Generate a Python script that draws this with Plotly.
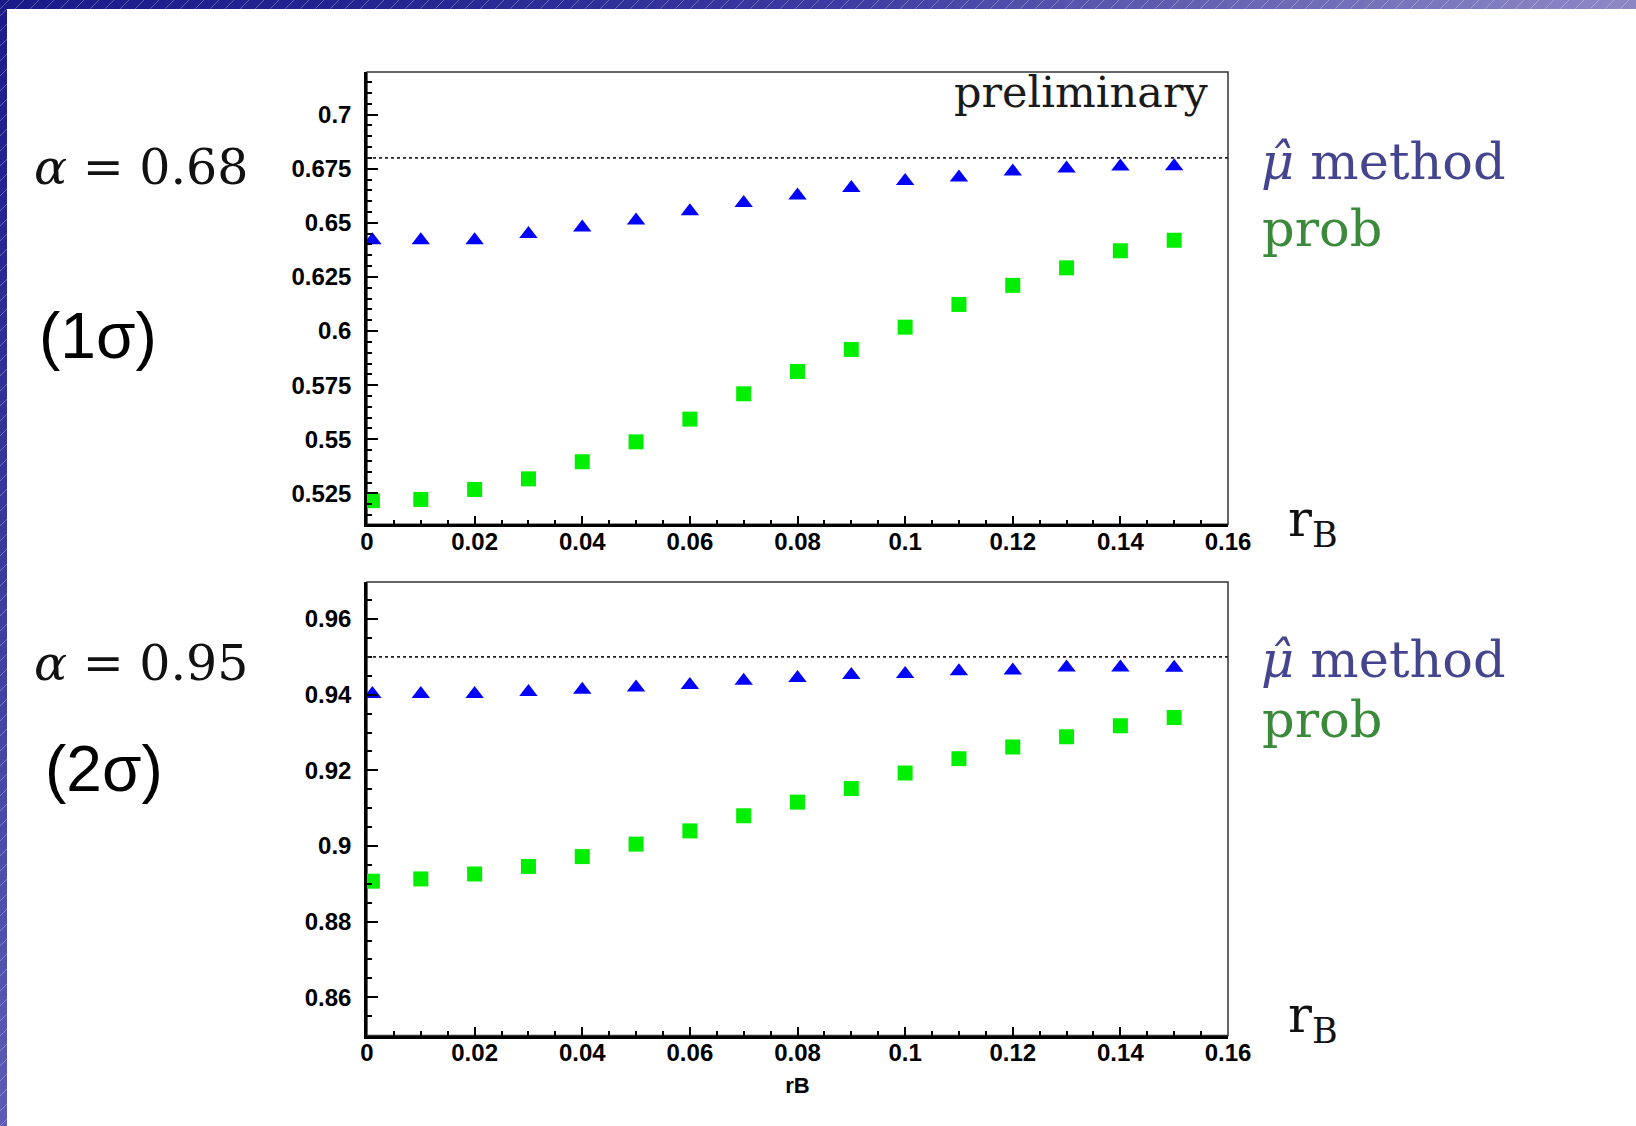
import plotly.graph_objects as go

W, H = 1636, 1126

# ---------------- data ----------------
rB = [0.001, 0.01, 0.02, 0.03, 0.04, 0.05, 0.06, 0.07, 0.08, 0.09,
      0.10, 0.11, 0.12, 0.13, 0.14, 0.15]

alpha_levels = [0.68, 0.95]

mu_hat_68 = [0.6420, 0.6420, 0.6420, 0.6448, 0.6479, 0.6511, 0.6554, 0.6592,
             0.6626, 0.6661, 0.6693, 0.6709, 0.6737, 0.6751, 0.6760, 0.6762]
prob_68 = [0.5216, 0.5222, 0.5268, 0.5317, 0.5396, 0.5488, 0.5593, 0.5710,
           0.5813, 0.5915, 0.6018, 0.6123, 0.6211, 0.6292, 0.6371, 0.6420]

mu_hat_95 = [0.9402, 0.9402, 0.9402, 0.9407, 0.9413, 0.9419, 0.9426, 0.9437,
             0.9444, 0.9452, 0.9455, 0.9462, 0.9464, 0.9472, 0.9472, 0.9471]
prob_95 = [0.8907, 0.8913, 0.8926, 0.8946, 0.8972, 0.9005, 0.9040, 0.9080,
           0.9116, 0.9152, 0.9193, 0.9231, 0.9262, 0.9289, 0.9318, 0.9340]

x_tickvals = [0, 0.02, 0.04, 0.06, 0.08, 0.10, 0.12, 0.14, 0.16]
x_ticktext = ["0", "0.02", "0.04", "0.06", "0.08", "0.1", "0.12", "0.14", "0.16"]

y1_tickvals = [0.525, 0.55, 0.575, 0.6, 0.625, 0.65, 0.675, 0.7]
y1_ticktext = ["0.525", "0.55", "0.575", "0.6", "0.625", "0.65", "0.675", "0.7"]

y2_tickvals = [0.86, 0.88, 0.90, 0.92, 0.94, 0.96]
y2_ticktext = ["0.86", "0.88", "0.9", "0.92", "0.94", "0.96"]

x_range = [0, 0.16]
y1_range = [0.5107, 0.7197]
y2_range = [0.8499, 0.9698]

# ---------------- helpers ----------------
def px(x):
    return x / W


def py(y):
    return 1 - y / H


BLUE = "#0000ff"
GREEN = "#00ee00"
TICKFONT = dict(family="Liberation Sans, Arial, sans-serif", size=24, color="black", weight="bold")
SERIF = "DejaVu Serif, serif"

fig = go.Figure()

fig.add_trace(go.Scatter(x=rB, y=mu_hat_68, mode="markers", xaxis="x", yaxis="y",
                         marker=dict(symbol="triangle-up", size=16, color=BLUE),
                         name="mu hat method", showlegend=False))
fig.add_trace(go.Scatter(x=rB, y=prob_68, mode="markers", xaxis="x", yaxis="y",
                         marker=dict(symbol="square", size=15, color=GREEN),
                         name="prob", showlegend=False))
fig.add_trace(go.Scatter(x=rB, y=mu_hat_95, mode="markers", xaxis="x2", yaxis="y2",
                         marker=dict(symbol="triangle-up", size=16, color=BLUE),
                         name="mu hat method", showlegend=False))
fig.add_trace(go.Scatter(x=rB, y=prob_95, mode="markers", xaxis="x2", yaxis="y2",
                         marker=dict(symbol="square", size=15, color=GREEN),
                         name="prob", showlegend=False))

xdom = [px(367), px(1228)]
y1dom = [py(524.3), py(72)]
y2dom = [py(1035.5), py(582)]


def xaxis_cfg(anchor, title=None):
    d = dict(domain=xdom, anchor=anchor, range=x_range, tickmode="array",
             tickvals=x_tickvals, ticktext=x_ticktext, ticks="inside", ticklen=9,
             tickwidth=2, tickcolor="black", showline=True, linewidth=2.5,
             linecolor="black", showgrid=False, zeroline=False, tickfont=TICKFONT,
             ticklabelstandoff=-6, automargin=False,
             minor=dict(dtick=0.005, tick0=0, ticks="inside", ticklen=5,
                        tickwidth=2, tickcolor="black", showgrid=False))
    if title:
        d["title"] = dict(text=title, standoff=13,
                          font=dict(family="Liberation Sans, Arial, sans-serif",
                                    size=22, color="black", weight="bold"))
    return d


def yaxis_cfg(anchor, dom, rng, tv, tt, minor_dtick):
    return dict(domain=dom, anchor=anchor, range=rng, tickmode="array",
                tickvals=tv, ticktext=tt, ticks="inside", ticklen=11, tickwidth=2,
                tickcolor="black", showline=True, linewidth=2.5, linecolor="black",
                showgrid=False, zeroline=False, tickfont=TICKFONT,
                ticklabelstandoff=8, automargin=False,
                minor=dict(dtick=minor_dtick, tick0=0, ticks="inside", ticklen=5,
                           tickwidth=2, tickcolor="black", showgrid=False))


shapes = []
# frames (top/right thin edges)
for xr, yr in (("x", "y"), ("x2", "y2")):
    shapes.append(dict(type="rect", xref=xr + " domain", yref=yr + " domain",
                       x0=0, x1=1, y0=0, y1=1, layer="below",
                       line=dict(color="#333333", width=1.5)))
# reference dotted lines at alpha
for (xr, yr), a in zip((("x", "y"), ("x2", "y2")), alpha_levels):
    shapes.append(dict(type="line", xref=xr + " domain", yref=yr, x0=0, x1=1,
                       y0=a, y1=a, line=dict(color="#222222", width=1.7, dash="dot")))


# slide border: top band and left band with gradient
def lerp_color(stops, t):
    for (t0, c0), (t1, c1) in zip(stops[:-1], stops[1:]):
        if t0 <= t <= t1:
            f = (t - t0) / (t1 - t0) if t1 > t0 else 0
            c = [round(c0[i] + (c1[i] - c0[i]) * f) for i in range(3)]
            return "rgb(%d,%d,%d)" % tuple(c)
    c = stops[-1][1]
    return "rgb(%d,%d,%d)" % tuple(c)


top_stops = [(0.0, (26, 26, 138)), (0.25, (38, 38, 146)), (0.5, (58, 58, 160)),
             (0.84, (118, 114, 186)), (1.0, (140, 136, 198))]
left_stops = [(0.0, (26, 26, 138)), (0.5, (58, 58, 158)), (1.0, (92, 92, 182))]

TOPH = 9
LEFTW = 7
NSEG = 60
for i in range(NSEG):
    x0 = W * i / NSEG
    x1 = min(W, W * (i + 1) / NSEG + 1)
    shapes.append(dict(type="rect", xref="paper", yref="paper", x0=px(x0), x1=px(x1),
                       y0=py(TOPH), y1=1, line=dict(width=0),
                       fillcolor=lerp_color(top_stops, (i + 0.5) / NSEG), layer="above"))
for i in range(NSEG):
    y0 = TOPH + (H - TOPH) * i / NSEG
    y1 = min(H, TOPH + (H - TOPH) * (i + 1) / NSEG + 1)
    shapes.append(dict(type="rect", xref="paper", yref="paper", x0=0, x1=px(LEFTW),
                       y0=py(y1), y1=py(y0), line=dict(width=0),
                       fillcolor=lerp_color(left_stops, (i + 0.5) / NSEG), layer="above"))

# faint diagonal hatch on the border
hatch = []
step = 15
xs = 0
while xs + TOPH <= W:
    hatch.append("M %.5f,%.5f L %.5f,%.5f" % (px(xs), py(TOPH), px(xs + TOPH), py(0)))
    xs += step
ys = TOPH
while ys + LEFTW <= H:
    hatch.append("M %.5f,%.5f L %.5f,%.5f" % (0, py(ys + LEFTW), px(LEFTW), py(ys)))
    ys += step
shapes.append(dict(type="path", xref="paper", yref="paper", path=" ".join(hatch),
                   line=dict(color="rgba(255,255,255,0.30)", width=1), layer="above"))

annotations = []


def add_text(text, x, y, size, color, family, xanchor="left"):
    annotations.append(dict(text=text, x=px(x), y=py(y), xref="paper", yref="paper",
                            xanchor=xanchor, yanchor="middle", showarrow=False,
                            font=dict(family=family, size=size, color=color)))


SANS = "Liberation Sans, Arial, sans-serif"
METHOD_C = "#45458f"
PROB_C = "#3b8a3b"

add_text("preliminary", 1210, 92, 43, "#1a1a1a", SERIF, xanchor="right")

add_text("<i>\u03bc\u0302</i> method", 1259, 161, 51, METHOD_C, SERIF)
add_text("prob", 1260, 229, 51, PROB_C, SERIF)
add_text("<i>\u03bc\u0302</i> method", 1259, 659, 51, METHOD_C, SERIF)
add_text("prob", 1260, 719, 51, PROB_C, SERIF)

add_text("r<sub>B</sub>", 1286, 522, 50, "#111111", SERIF)
add_text("r<sub>B</sub>", 1286, 1018, 50, "#111111", SERIF)

add_text("<i>\u03b1</i> = 0.68", 32, 167, 49, "#111111", SERIF)
add_text("<i>\u03b1</i> = 0.95", 32, 663, 49, "#111111", SERIF)
add_text("(1\u03c3)", 37, 336, 64, "black", SANS)
add_text("(2\u03c3)", 43, 769, 64, "black", SANS)

fig.update_layout(
    width=W, height=H, autosize=False,
    margin=dict(l=0, r=0, t=0, b=0, pad=0, autoexpand=False),
    paper_bgcolor="white", plot_bgcolor="white",
    showlegend=False,
    xaxis=xaxis_cfg("y"),
    yaxis=yaxis_cfg("x", y1dom, y1_range, y1_tickvals, y1_ticktext, 0.005),
    xaxis2=xaxis_cfg("y2", title="rB"),
    yaxis2=yaxis_cfg("x2", y2dom, y2_range, y2_tickvals, y2_ticktext, 0.005),
    shapes=shapes,
    annotations=annotations,
)

fig.write_html("out.html",
               config={"displayModeBar": False, "responsive": False},
               post_script="document.body.style.margin='0';document.body.style.overflow='hidden';")
